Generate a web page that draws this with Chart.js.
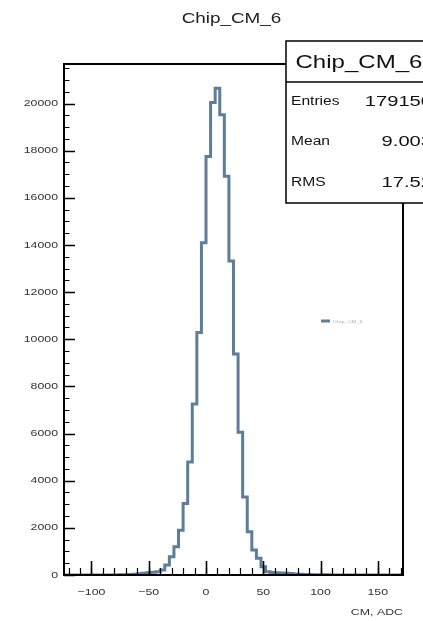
<!DOCTYPE html>
<html>
<head>
<meta charset="utf-8">
<title>Chip_CM_6</title>
<script src="https://cdn.jsdelivr.net/npm/chart.js@4.4.1/dist/chart.umd.min.js"></script>
<style>
  html, body { margin: 0; padding: 0; background: #fff; }
  #wrap { width: 423px; height: 621px; position: relative; }
</style>
</head>
<body>
<div id="wrap"><canvas id="cm" width="423" height="621"></canvas></div>
<script>
// common-mode histogram, 4 ADC wide bins from -124 to 172
const histName = 'Chip_CM_6';
const axisTitle = 'CM, ADC';
const xMin = -124;
const xMax = 172;
const binWidth = 4;
const binCenters = [
  -122, -118, -114, -110, -106, -102, -98, -94, -90, -86,
  -82, -78, -74, -70, -66, -62, -58, -54, -50, -46,
  -42, -38, -34, -30, -26, -22, -18, -14, -10, -6,
  -2, 2, 6, 10, 14, 18, 22, 26, 30, 34,
  38, 42, 46, 50, 54, 58, 62, 66, 70, 74,
  78, 82, 86, 90, 94, 98, 102, 106, 110, 114,
  118, 122, 126, 130, 134, 138, 142, 146, 150, 154,
  158, 162, 166, 170
];
const counts = [
  0, 0, 0, 0, 0, 1, 1, 1, 2, 2,
  3, 4, 6, 12, 22, 35, 50, 70, 95, 115,
  140, 211, 423, 774, 1197, 1903, 3031, 4791, 7259, 10287,
  14092, 17758, 20040, 20645, 19521, 16912, 13318, 9373, 6059, 3311,
  1831, 1057, 706, 351, 140, 110, 95, 85, 75, 60,
  45, 30, 22, 16, 12, 9, 7, 6, 5, 4,
  3, 3, 2, 2, 2, 1, 1, 1, 1, 1,
  0, 0, 0, 0
];
const xTicks = [-100, -50, 0, 50, 100, 150];
const yTicks = [0, 2000, 4000, 6000, 8000, 10000, 12000, 14000, 16000, 18000, 20000];
const statLabels = ['Entries', 'Mean', 'RMS'];
const statValues = ['179150', '9.003', '17.52'];

const lineColor = '#5e7d99';
const textStretch = 1.3; // glyphs in this plot are rendered wide

// step outline: one point per bin low edge, plus the last high edge
const points = binCenters.map((c, i) => ({ x: c - binWidth / 2, y: counts[i] }));
points.push({ x: binCenters[binCenters.length - 1] + binWidth / 2, y: counts[counts.length - 1] });

function wideText(ctx, text, x, y, size, align, color) {
  ctx.save();
  ctx.translate(x, y);
  ctx.scale(textStretch, 1);
  ctx.font = size + 'px "Liberation Sans", Arial, sans-serif';
  ctx.textAlign = align;
  ctx.textBaseline = 'middle';
  ctx.fillStyle = color || '#222';
  ctx.fillText(text, 0, 0);
  ctx.restore();
}

const rootFrame = {
  id: 'rootFrame',
  afterDatasetsDraw(chart) {
    const { ctx, chartArea: a, scales } = chart;
    const xs = scales.x, ys = scales.y;
    ctx.save();
    ctx.strokeStyle = '#000';

    // minor ticks
    ctx.lineWidth = 1.2;
    ctx.beginPath();
    for (let v = -120; v <= xMax; v += 10) {
      const px = Math.round(xs.getPixelForValue(v)) + 0.5;
      ctx.moveTo(px, a.bottom);
      ctx.lineTo(px, a.bottom - 7);
    }
    for (let v = 0; v <= ys.max; v += 500) {
      const py = Math.round(ys.getPixelForValue(v)) + 0.5;
      ctx.moveTo(a.left, py);
      ctx.lineTo(a.left + 5.5, py);
    }
    ctx.stroke();

    // major ticks
    ctx.lineWidth = 1.6;
    ctx.beginPath();
    xTicks.forEach(v => {
      const px = Math.round(xs.getPixelForValue(v)) + 0.5;
      ctx.moveTo(px, a.bottom);
      ctx.lineTo(px, a.bottom - 14);
    });
    yTicks.forEach(v => {
      const py = Math.round(ys.getPixelForValue(v)) + 0.5;
      ctx.moveTo(a.left, py);
      ctx.lineTo(a.left + 11, py);
    });
    ctx.stroke();

    // frame
    ctx.lineWidth = 2;
    ctx.strokeRect(a.left, a.top, a.right - a.left, a.bottom - a.top);

    // tick labels
    xTicks.forEach(v => {
      const txt = v < 0 ? '\u2212' + Math.abs(v) : String(v);
      wideText(ctx, txt, xs.getPixelForValue(v), a.bottom + 17, 9.5, 'center', '#333');
    });
    yTicks.forEach(v => {
      wideText(ctx, String(v), a.left - 6, ys.getPixelForValue(v), 9.5, 'right', '#333');
    });
    wideText(ctx, axisTitle, a.right, a.bottom + 37, 9.5, 'right', '#333');

    // title
    wideText(ctx, histName, (a.left + a.right) / 2 - 2, 19, 14.5, 'center', '#222');

    // small legend entry
    const ds = chart.data.datasets[0];
    ctx.strokeStyle = ds.borderColor;
    ctx.lineWidth = 3;
    ctx.beginPath();
    ctx.moveTo(321, 321);
    ctx.lineTo(330, 321);
    ctx.stroke();
    ctx.save();
    ctx.translate(333, 321.5);
    ctx.scale(1.4, 1);
    ctx.font = '4px "Liberation Sans", Arial, sans-serif';
    ctx.fillStyle = '#aab';
    ctx.textBaseline = 'middle';
    ctx.textAlign = 'left';
    ctx.fillText(ds.label, 0, 0);
    ctx.restore();

    // stats box
    const bx = 286, by = 41, bw = 160, headH = 41, bh = 162;
    ctx.fillStyle = '#fff';
    ctx.fillRect(bx, by, bw, bh);
    ctx.strokeStyle = '#000';
    ctx.lineWidth = 1.5;
    ctx.strokeRect(bx, by, bw, bh);
    ctx.beginPath();
    ctx.moveTo(bx, by + headH);
    ctx.lineTo(bx + bw, by + headH);
    ctx.stroke();
    wideText(ctx, histName, 359, by + headH / 2 + 1, 18.5, 'center', '#111');
    const rowY = [101.5, 141.5, 183];
    statLabels.forEach((lab, i) => {
      wideText(ctx, lab, 291, rowY[i], 12, 'left', '#111');
      wideText(ctx, statValues[i], 432, rowY[i], 15.5, 'right', '#111');
    });
    ctx.restore();
  }
};

new Chart(document.getElementById('cm'), {
  type: 'line',
  data: {
    datasets: [{
      label: histName,
      data: points,
      stepped: true,
      borderColor: lineColor,
      borderWidth: 3,
      pointRadius: 0,
      fill: false,
      tension: 0
    }]
  },
  options: {
    responsive: false,
    devicePixelRatio: 1,
    animation: false,
    layout: { padding: { left: 64, top: 64, right: 20, bottom: 46 } },
    scales: {
      x: { type: 'linear', min: xMin, max: xMax, display: false },
      y: { type: 'linear', min: 0, max: Math.max(...counts) * 1.05, display: false }
    },
    plugins: {
      legend: { display: false },
      tooltip: { enabled: false }
    }
  },
  plugins: [rootFrame]
});
</script>
</body>
</html>
